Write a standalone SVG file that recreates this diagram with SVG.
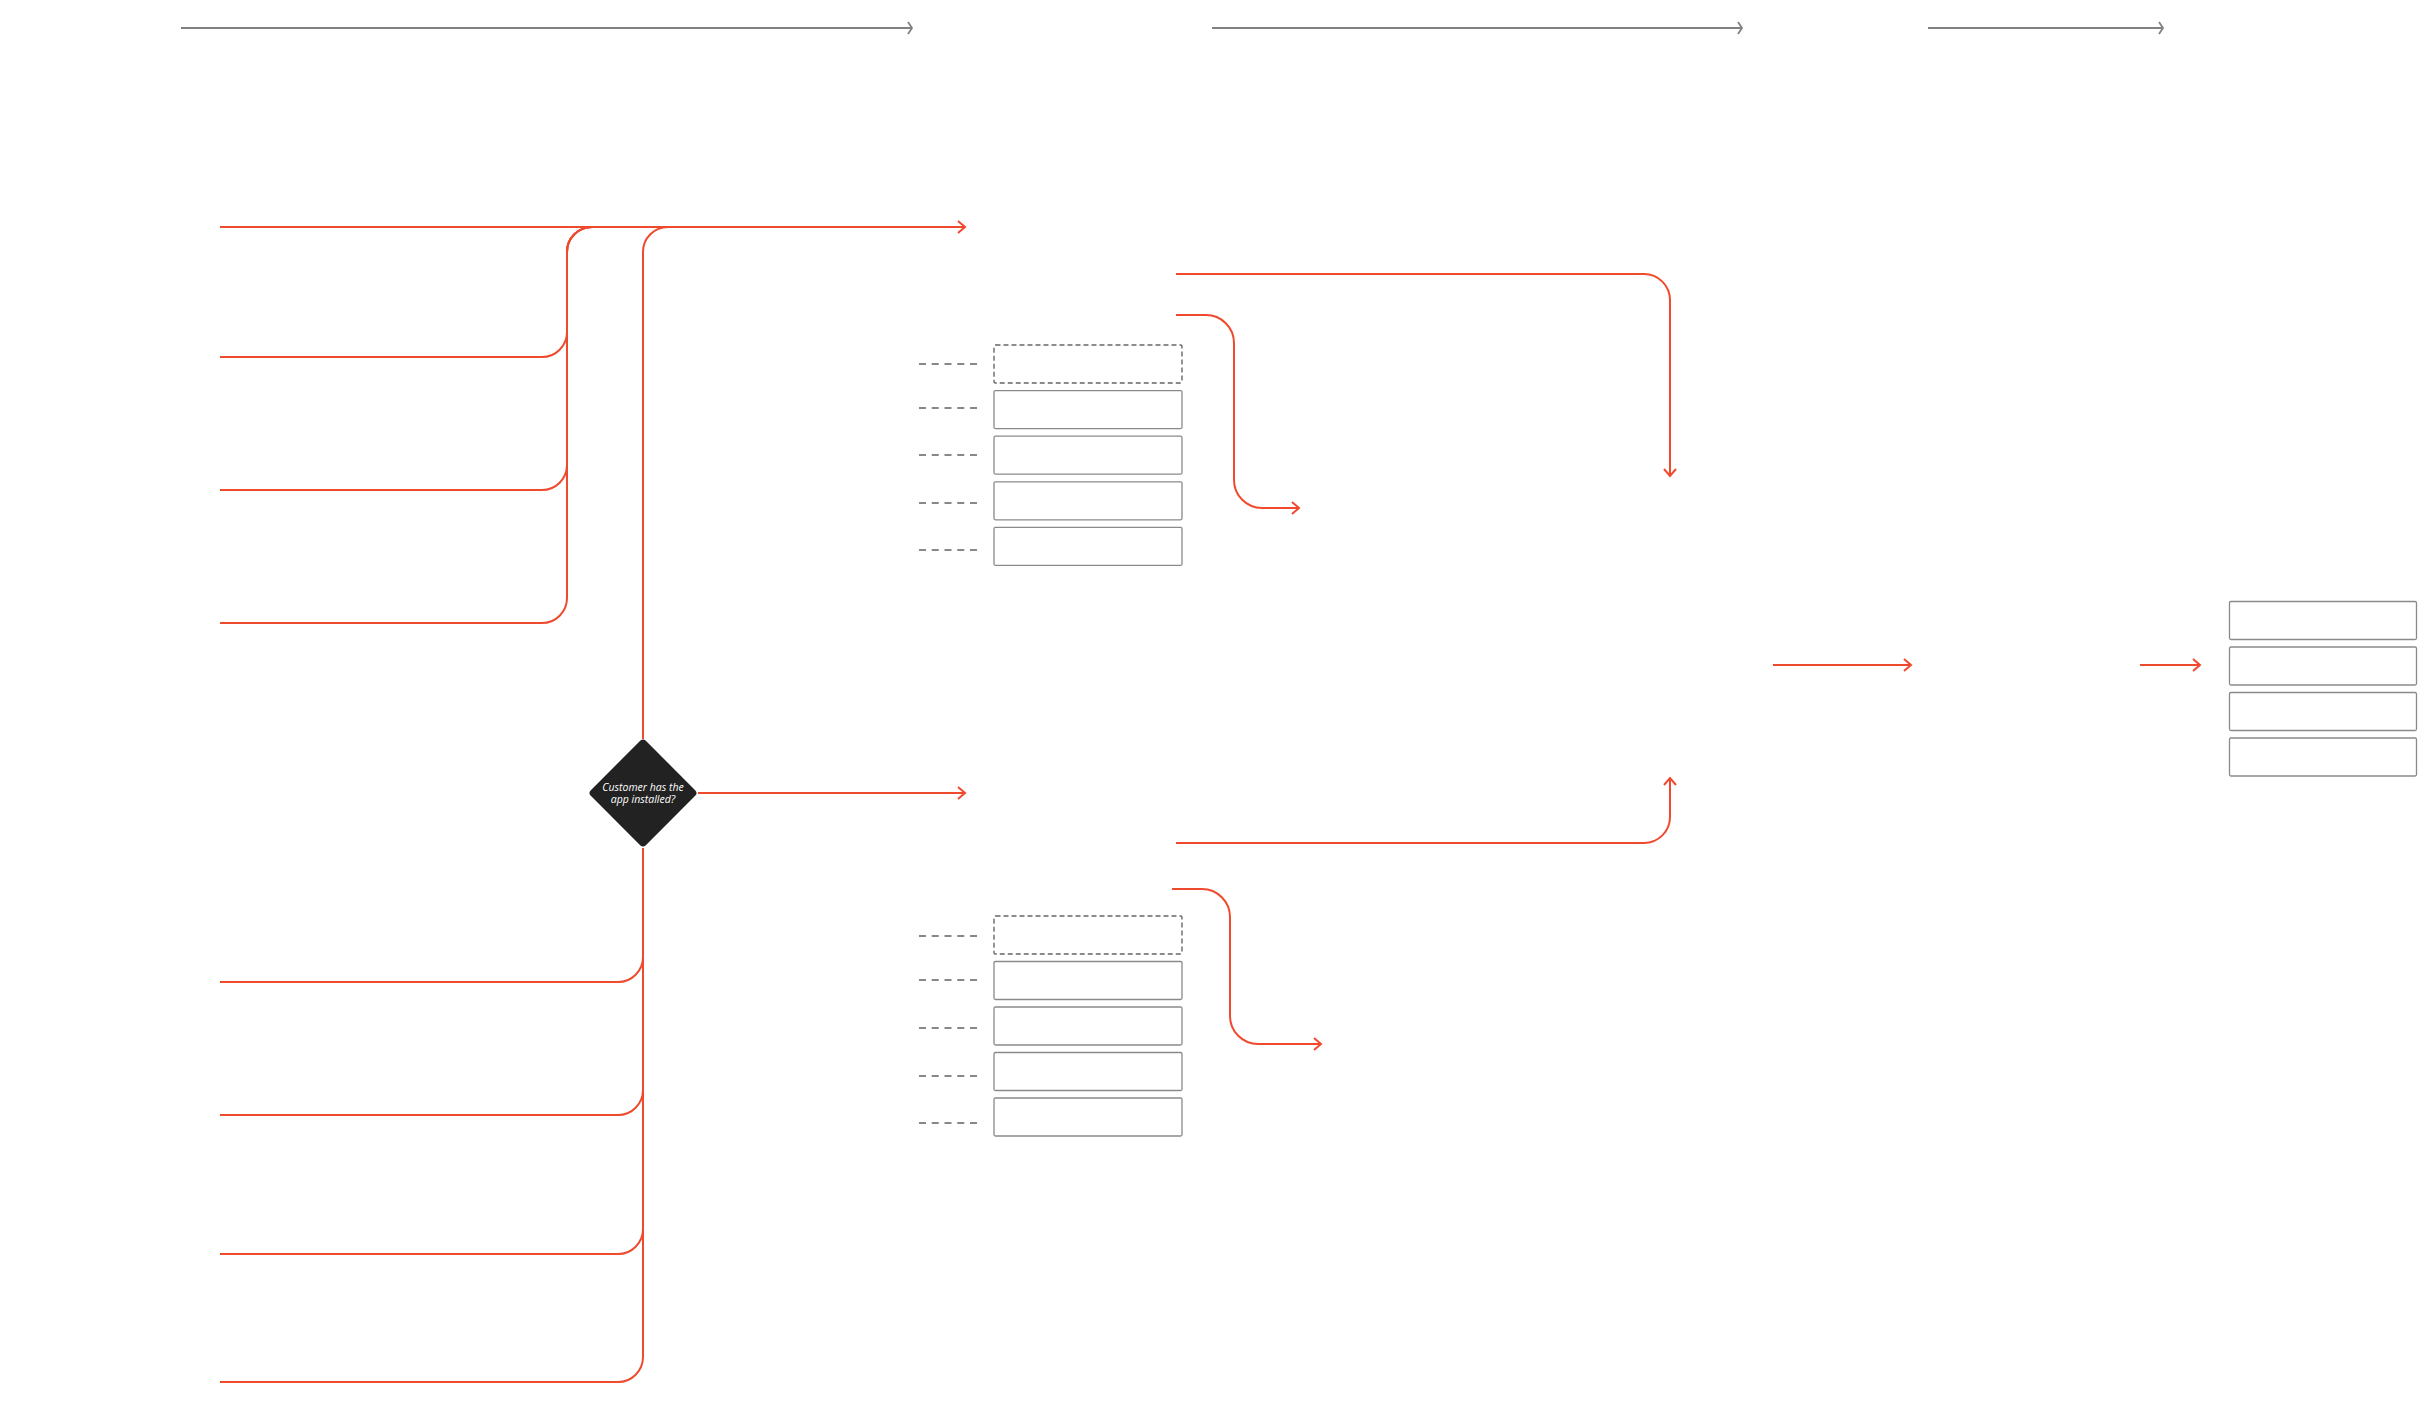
<svg xmlns="http://www.w3.org/2000/svg" width="2424" height="1428" viewBox="0 0 2424 1428">
<style>
.red{fill:none;stroke:#F04A2E;stroke-width:2}
.gray{fill:none;stroke:#808080;stroke-width:2}
.box{fill:#fff;stroke:#8a8a8a;stroke-width:1.3}
.dbox{fill:#fff;stroke:#666;stroke-width:1.4;stroke-dasharray:5 3}
.dash{fill:none;stroke:#888;stroke-width:2;stroke-dasharray:7 5.75}
.dt{font-family:"Open Sans","Liberation Sans",sans-serif;font-style:italic;font-size:10.5px;fill:#fff;text-anchor:middle}
</style>
<defs>
<marker id="ar" viewBox="-10 -8 12 16" refX="0" refY="0" markerWidth="12" markerHeight="16" markerUnits="userSpaceOnUse" orient="auto">
<path d="M-7,-6 L0,0 L-7,6" fill="none" stroke="#F04A2E" stroke-width="2"/>
</marker>
<marker id="ag" viewBox="-10 -8 12 16" refX="0" refY="0" markerWidth="12" markerHeight="16" markerUnits="userSpaceOnUse" orient="auto">
<path d="M-4,-6 L0,0 L-4,6" fill="none" stroke="#808080" stroke-width="1.8"/>
</marker>
</defs>
<rect width="2424" height="1428" fill="#fff"/>
<g id="connectors">
<path class="gray" d="M181,28 H912" marker-end="url(#ag)"/>
<path class="gray" d="M1212,28 H1742" marker-end="url(#ag)"/>
<path class="gray" d="M1928,28 H2163" marker-end="url(#ag)"/>
<path class="red" d="M220,227 H965" marker-end="url(#ar)"/>
<path class="red" d="M220,357 H542 A25,25 0 0 0 567,332 V252 A25,25 0 0 1 592,227"/>
<path class="red" d="M220,490 H542 A25,25 0 0 0 567,465 V252 A25,25 0 0 1 592,227"/>
<path class="red" d="M220,623 H542 A25,25 0 0 0 567,598 V252 A25,25 0 0 1 592,227"/>
<path class="red" d="M643,739 V252 A25,25 0 0 1 668,227"/>
<path class="red" d="M698,793 H965" marker-end="url(#ar)"/>
<path class="red" d="M643,848 V957 A25,25 0 0 1 618,982 H220"/>
<path class="red" d="M643,848 V1090 A25,25 0 0 1 618,1115 H220"/>
<path class="red" d="M643,848 V1229 A25,25 0 0 1 618,1254 H220"/>
<path class="red" d="M643,848 V1357 A25,25 0 0 1 618,1382 H220"/>
<path class="red" d="M1176,274 H1644 A26,26 0 0 1 1670,300 V476" marker-end="url(#ar)"/>
<path class="red" d="M1176,315 H1206 A28,28 0 0 1 1234,343 V480 A28,28 0 0 0 1262,508 H1299" marker-end="url(#ar)"/>
<path class="red" d="M1176,843 H1644 A26,26 0 0 0 1670,817 V778" marker-end="url(#ar)"/>
<path class="red" d="M1172,889 H1202 A28,28 0 0 1 1230,917 V1016 A28,28 0 0 0 1258,1044 H1321" marker-end="url(#ar)"/>
<path class="red" d="M1773,665 H1911" marker-end="url(#ar)"/>
<path class="red" d="M2140,665 H2200" marker-end="url(#ar)"/>
<path class="dash" d="M919,364 H977"/>
<path class="dash" d="M919,408 H977"/>
<path class="dash" d="M919,455 H977"/>
<path class="dash" d="M919,503 H977"/>
<path class="dash" d="M919,550 H977"/>
<path class="dash" d="M919,936 H977"/>
<path class="dash" d="M919,980 H977"/>
<path class="dash" d="M919,1028 H977"/>
<path class="dash" d="M919,1076 H977"/>
<path class="dash" d="M919,1123 H977"/>
</g>
<g id="decision">
<rect x="-38.9" y="-38.9" width="77.8" height="77.8" rx="4" fill="#222" transform="translate(643,793) rotate(45)"/>
<text class="dt" x="643" y="791">Customer has the</text>
<text class="dt" x="643" y="802.5">app installed?</text>
</g>
<g id="upper-list">
<rect class="dbox" x="994" y="345" width="188" height="38" rx="1.5"/>
<rect class="box" x="994" y="390.6" width="188" height="38" rx="1.5"/>
<rect class="box" x="994" y="436.2" width="188" height="38" rx="1.5"/>
<rect class="box" x="994" y="481.8" width="188" height="38" rx="1.5"/>
<rect class="box" x="994" y="527.4" width="188" height="38" rx="1.5"/>
</g>
<g id="lower-list">
<rect class="dbox" x="994" y="916" width="188" height="38" rx="1.5"/>
<rect class="box" x="994" y="961.5" width="188" height="38" rx="1.5"/>
<rect class="box" x="994" y="1007" width="188" height="38" rx="1.5"/>
<rect class="box" x="994" y="1052.5" width="188" height="38" rx="1.5"/>
<rect class="box" x="994" y="1098" width="188" height="38" rx="1.5"/>
</g>
<g id="right-list">
<rect class="box" x="2229.5" y="601.5" width="187" height="38" rx="1.5"/>
<rect class="box" x="2229.5" y="647" width="187" height="38" rx="1.5"/>
<rect class="box" x="2229.5" y="692.5" width="187" height="38" rx="1.5"/>
<rect class="box" x="2229.5" y="738" width="187" height="38" rx="1.5"/>
</g>
</svg>
